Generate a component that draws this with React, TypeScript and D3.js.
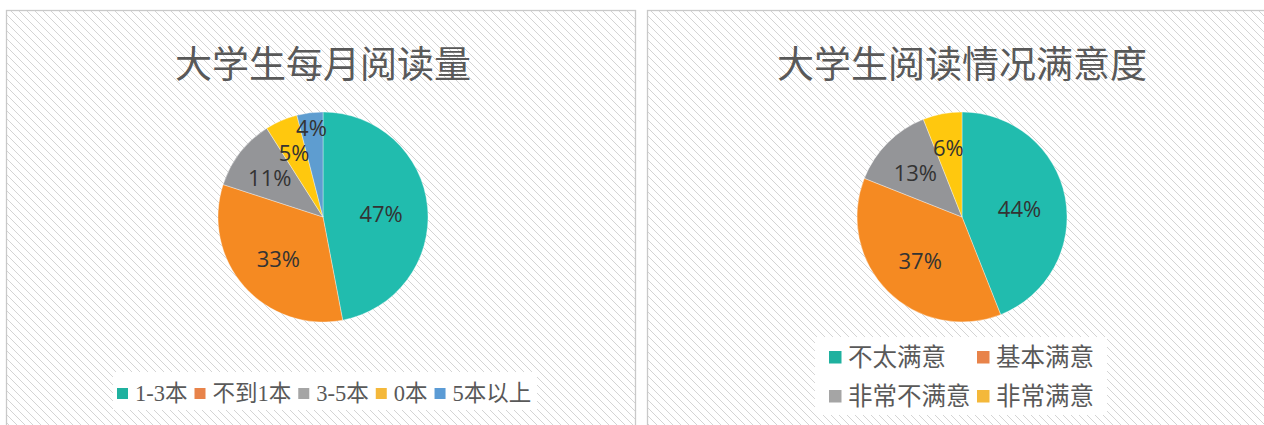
import React, { useEffect, useRef } from 'react';
import * as d3 from 'd3';

// chart 1: monthly reading
const readTitle = '大学生每月阅读量';
const readCats = ['1-3本', '不到1本', '3-5本', '0本', '5本以上'];
const readVals = [47, 33, 11, 5, 4];

// chart 2: satisfaction
const satTitle = '大学生阅读情况满意度';
const satCats = ['不太满意', '基本满意', '非常不满意', '非常满意'];
const satVals = [44, 37, 13, 6];

const sliceColors = ['#21bcae', '#f58a22', '#949598', '#ffc80e', '#5e9dd0'];
const legendColors = ['#1fb19f', '#e8834a', '#a5a5a5', '#f4b83a', '#5b9bd5'];

const W = 1264;
const H = 425;

export default function App() {
  const svgRef = useRef<SVGSVGElement>(null);

  useEffect(() => {
    const svg = d3.select(svgRef.current);
    svg.selectAll('*').remove();

    // hatch pattern
    const defs = svg.append('defs');
    const pat = defs.append('pattern')
      .attr('id', 'hatch')
      .attr('patternUnits', 'userSpaceOnUse')
      .attr('width', 8)
      .attr('height', 8);
    pat.append('rect').attr('width', 8).attr('height', 8).attr('fill', '#fff');
    pat.append('path')
      .attr('d', 'M-2,-2L10,10M-2,6L2,10M6,-2L10,2')
      .attr('stroke', '#d4d4d4')
      .attr('stroke-width', 1);

    const panels = [
      { x0: 6.5, x1: 635.5, cx: 323, title: readTitle, cats: readCats, vals: readVals },
      { x0: 647.5, x1: 1275, cx: 962, title: satTitle, cats: satCats, vals: satVals },
    ];

    const r = 105;
    const cy = 217;

    panels.forEach((p, pi) => {
      const g = svg.append('g');
      g.append('rect')
        .attr('x', p.x0).attr('y', 10.5)
        .attr('width', p.x1 - p.x0).attr('height', 430)
        .attr('fill', 'url(#hatch)')
        .attr('stroke', '#c9c9c9')
        .attr('stroke-width', 1.3);

      g.append('text')
        .attr('x', p.cx)
        .attr('y', 62)
        .attr('text-anchor', 'middle')
        .attr('dominant-baseline', 'central')
        .attr('font-family', '"Noto Sans CJK SC", sans-serif')
        .attr('font-size', 37)
        .attr('fill', '#595959')
        .text(p.title);

      const pie = d3.pie<number>().sort(null).value(d => d);
      const arcs = pie(p.vals);
      const arc = d3.arc<d3.PieArcDatum<number>>().innerRadius(0).outerRadius(r);

      const pg = g.append('g').attr('transform', `translate(${p.cx},${cy})`);
      pg.selectAll('path')
        .data(arcs)
        .join('path')
        .attr('d', arc)
        .attr('fill', (d, i) => sliceColors[i])
        .attr('stroke', '#ffffff')
        .attr('stroke-opacity', 0.6)
        .attr('stroke-width', 0.6);

      // data labels, pushed outward when they would collide with an earlier one
      const placed: { x: number; y: number; w: number; h: number }[] = [];
      arcs.forEach(d => {
        const t = pg.append('text')
          .attr('text-anchor', 'middle')
          .attr('dominant-baseline', 'central')
          .attr('font-family', '"Open Sans", "Noto Sans", sans-serif')
          .attr('font-size', 22)
          .attr('fill', '#333333')
          .text(`${d.data}%`);
        const w = (t.node() as SVGTextElement).getComputedTextLength();
        const h = 24;
        const a = (d.startAngle + d.endAngle) / 2;
        const span = d.endAngle - d.startAngle;
        let rho = 0.55 * r + 22 * Math.exp(-span * 1.2);
        const hit = (x: number, y: number) =>
          placed.some(q => Math.abs(q.x - x) < (q.w + w) / 2 && Math.abs(q.y - y) < (q.h + h) / 2);
        let x = Math.sin(a) * rho;
        let y = -Math.cos(a) * rho;
        while (hit(x, y) && rho < r * 0.92) {
          rho += 1;
          x = Math.sin(a) * rho;
          y = -Math.cos(a) * rho;
        }
        placed.push({ x, y, w, h });
        t.attr('x', x).attr('y', y + 1.5);
      });

      // legends
      const lf = '"Liberation Serif", "Noto Sans CJK SC", serif';
      if (pi === 0) {
        g.append('rect')
          .attr('x', 113).attr('y', 372).attr('width', 424).attr('height', 38)
          .attr('fill', '#fff');
        let x = 117;
        p.cats.forEach((c, i) => {
          g.append('rect')
            .attr('x', x).attr('y', 388).attr('width', 11).attr('height', 11)
            .attr('fill', legendColors[i]);
          const t = g.append('text')
            .attr('x', x + 18).attr('y', 393.5)
            .attr('dominant-baseline', 'central')
            .attr('font-family', lf)
            .attr('font-size', 22.5)
            .attr('fill', '#595959')
            .text(c);
          const w = (t.node() as SVGTextElement).getComputedTextLength();
          x = x + 18 + w + 7;
        });
      } else {
        g.append('rect')
          .attr('x', 815).attr('y', 337).attr('width', 292).attr('height', 78)
          .attr('fill', '#fff');
        const colX = [829, 977];
        const rowY = [357, 396];
        p.cats.forEach((c, i) => {
          const x = colX[i % 2];
          const y = rowY[Math.floor(i / 2)];
          g.append('rect')
            .attr('x', x).attr('y', y - 6).attr('width', 12.5).attr('height', 12.5)
            .attr('fill', legendColors[i]);
          g.append('text')
            .attr('x', x + 19).attr('y', y + 0.5)
            .attr('dominant-baseline', 'central')
            .attr('font-family', lf)
            .attr('font-size', 24.5)
            .attr('fill', '#595959')
            .text(c);
        });
      }
    });
  }, []);

  return (
    <svg
      ref={svgRef}
      width={W}
      height={H}
      style={{ position: 'absolute', left: 0, top: 0, background: '#fff' }}
    />
  );
}
